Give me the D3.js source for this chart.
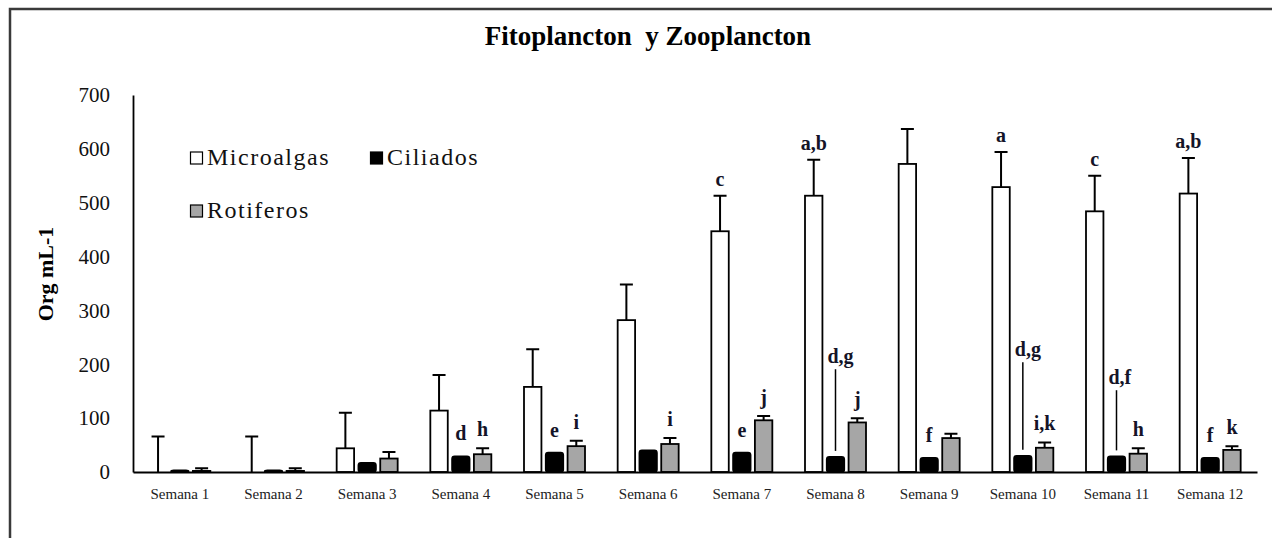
<!DOCTYPE html>
<html>
<head>
<meta charset="utf-8">
<script src="https://cdn.jsdelivr.net/npm/d3@7"></script>
<style>
  body { margin: 0; background: #fff; }
  text { font-family: "Liberation Serif", "Times New Roman", serif; }
</style>
</head>
<body>
<div id="chart"></div>
<script>
const weeks = ['Semana 1', 'Semana 2', 'Semana 3', 'Semana 4', 'Semana 5', 'Semana 6',
    'Semana 7', 'Semana 8', 'Semana 9', 'Semana 10', 'Semana 11', 'Semana 12'];
const series = ['Microalgas', 'Ciliados', 'Rotiferos'];

// means
const microalgas = [0, 0, 44, 114, 158, 282, 447, 513, 572, 529, 484, 517];
const ciliados = [3, 3, 17, 29, 36, 40, 36, 28, 26, 30, 29, 26];
const rotiferos = [2, 2, 25, 33, 48, 52, 96, 92, 63, 45, 34, 41];
// standard deviation (only upper bar drawn)
const microSD = [66, 66, 66, 66, 70, 66, 66, 67, 65, 65, 66, 66];
const rotSD = [5, 5, 12, 11, 10, 11, 8, 8, 8, 10, 10, 7];

// significance letters
const microLetters = ['', '', '', '', '', '', 'c', 'a,b', '', 'a', 'c', 'a,b'];
const cilLetters = ['', '', '', 'd', 'e', '', 'e', 'd,g', 'f', 'd,g', 'd,f', 'f'];
const rotLetters = ['', '', '', 'h', 'i', 'i', 'j', 'j', '', 'i,k', 'h', 'k'];
// letters lifted with a leader line (value where the label sits)
const cilLeader = [null, null, null, null, null, null, null, 202, null, 215, 163, null];

const yTicks = [0, 100, 200, 300, 400, 500, 600, 700];

const width = 1272, height = 538;
const svg = d3.select('#chart').append('svg')
    .attr('width', width)
    .attr('height', height);

// outer frame (only left and top visible)
svg.append('path')
    .attr('d', 'M10,538V9H1272')
    .attr('fill', 'none')
    .attr('stroke', '#3a3a3a')
    .attr('stroke-width', 2.5);

const x0 = d3.scaleBand().domain(weeks).range([133, 1257]);
const x1 = d3.scaleBand().domain(series).range([-30.5, 30.5]).paddingInner(0.2);
const y = d3.scaleLinear().domain([0, 700]).range([472, 95]);

const fills = { Microalgas: '#ffffff', Ciliados: '#000000', Rotiferos: '#a6a6a6' };
const cx = (w, s) => x0(w) + x0.bandwidth() / 2 + x1(s) + x1.bandwidth() / 2;

// title
svg.append('text')
    .attr('x', 648)
    .attr('y', 45)
    .attr('text-anchor', 'middle')
    .attr('font-size', 27)
    .attr('font-weight', 'bold')
    .style('white-space', 'pre')
    .text('Fitoplancton  y Zooplancton');

// y title
svg.append('text')
    .attr('transform', 'translate(53,274) rotate(-90)')
    .attr('text-anchor', 'middle')
    .attr('font-size', 22)
    .attr('font-weight', 'bold')
    .text('Org mL-1');

// axes
const yAxis = svg.append('g')
    .attr('transform', 'translate(133,0)')
    .call(d3.axisLeft(y).tickValues(yTicks).tickSize(0).tickPadding(23));
yAxis.selectAll('text').attr('font-size', 21).attr('fill', '#111');
yAxis.select('.domain').attr('stroke', '#000').attr('stroke-width', 1.8);

const rows = weeks.map((w, i) => ({
    week: w,
    vals: [
        { s: 'Microalgas', v: microalgas[i], sd: microSD[i] },
        { s: 'Ciliados', v: ciliados[i], sd: 0 },
        { s: 'Rotiferos', v: rotiferos[i], sd: rotSD[i] }
    ]
}));

const groups = svg.append('g').selectAll('g')
    .data(rows)
    .enter().append('g');

// error bars first, bars on top
groups.selectAll('path.err')
    .data(d => d.vals.filter(v => v.sd > 0).map(v => Object.assign({ week: d.week }, v)))
    .enter().append('path')
    .attr('class', 'err')
    .attr('d', d => {
        const c = cx(d.week, d.s);
        const top = y(d.v + d.sd);
        return `M${c},${y(d.v)}V${top}M${c - 6.5},${top}H${c + 6.5}`;
    })
    .attr('fill', 'none')
    .attr('stroke', '#000')
    .attr('stroke-width', 2);

groups.selectAll('rect')
    .data(d => d.vals.map(v => Object.assign({ week: d.week }, v)))
    .enter().append('rect')
    .attr('x', d => x0(d.week) + x0.bandwidth() / 2 + x1(d.s))
    .attr('y', d => y(d.v))
    .attr('width', x1.bandwidth())
    .attr('height', d => y(0) - y(d.v))
    .attr('fill', d => fills[d.s])
    .attr('stroke', d => d.v > 0 ? '#000' : 'none')
    .attr('stroke-width', 1.8)
    .attr('rx', d => d.s === 'Ciliados' ? 2.5 : 0);

const xAxis = svg.append('g')
    .attr('transform', 'translate(0,472)')
    .call(d3.axisBottom(x0).tickSize(0).tickPadding(16));
xAxis.selectAll('text').attr('font-size', 15).attr('fill', '#222');
xAxis.select('.domain').attr('stroke', '#000').attr('stroke-width', 2);

// letters
const lbl = svg.append('g')
    .attr('font-size', 20)
    .attr('font-weight', 'bold')
    .attr('fill', '#141428')
    .attr('text-anchor', 'middle');

weeks.forEach((w, i) => {
    if (microLetters[i]) {
        lbl.append('text')
            .attr('x', cx(w, 'Microalgas'))
            .attr('y', y(microalgas[i] + microSD[i]) - 10)
            .text(microLetters[i]);
    }
    if (rotLetters[i]) {
        lbl.append('text')
            .attr('x', cx(w, 'Rotiferos'))
            .attr('y', y(rotiferos[i] + rotSD[i]) - 12)
            .text(rotLetters[i]);
    }
    if (cilLetters[i]) {
        const c = cx(w, 'Ciliados');
        if (cilLeader[i] != null) {
            const ly = y(cilLeader[i]);
            lbl.append('text')
                .attr('x', c - 8)
                .attr('y', ly)
                .attr('text-anchor', 'start')
                .text(cilLetters[i]);
            lbl.append('line')
                .attr('x1', c).attr('x2', c)
                .attr('y1', ly + 6)
                .attr('y2', y(ciliados[i]) - 6)
                .attr('stroke', '#000')
                .attr('stroke-width', 1.5);
        } else {
            lbl.append('text')
                .attr('x', c)
                .attr('y', y(ciliados[i]) - 16)
                .text(cilLetters[i]);
        }
    }
});

// legend
const legendPos = [
    { s: 'Microalgas', x: 190, y: 165 },
    { s: 'Ciliados', x: 370, y: 165 },
    { s: 'Rotiferos', x: 190, y: 218 }
];
const leg = svg.append('g').selectAll('g')
    .data(legendPos)
    .enter().append('g')
    .attr('transform', d => `translate(${d.x},${d.y})`);
leg.append('rect')
    .attr('x', 0.5)
    .attr('y', -13)
    .attr('width', 12)
    .attr('height', 12)
    .attr('fill', d => fills[d.s])
    .attr('stroke', '#000')
    .attr('stroke-width', 1.2);
leg.append('text')
    .attr('x', 17)
    .attr('y', 0)
    .attr('font-size', 24)
    .attr('letter-spacing', 1.5)
    .attr('fill', '#111')
    .text(d => d.s);
</script>
</body>
</html>
